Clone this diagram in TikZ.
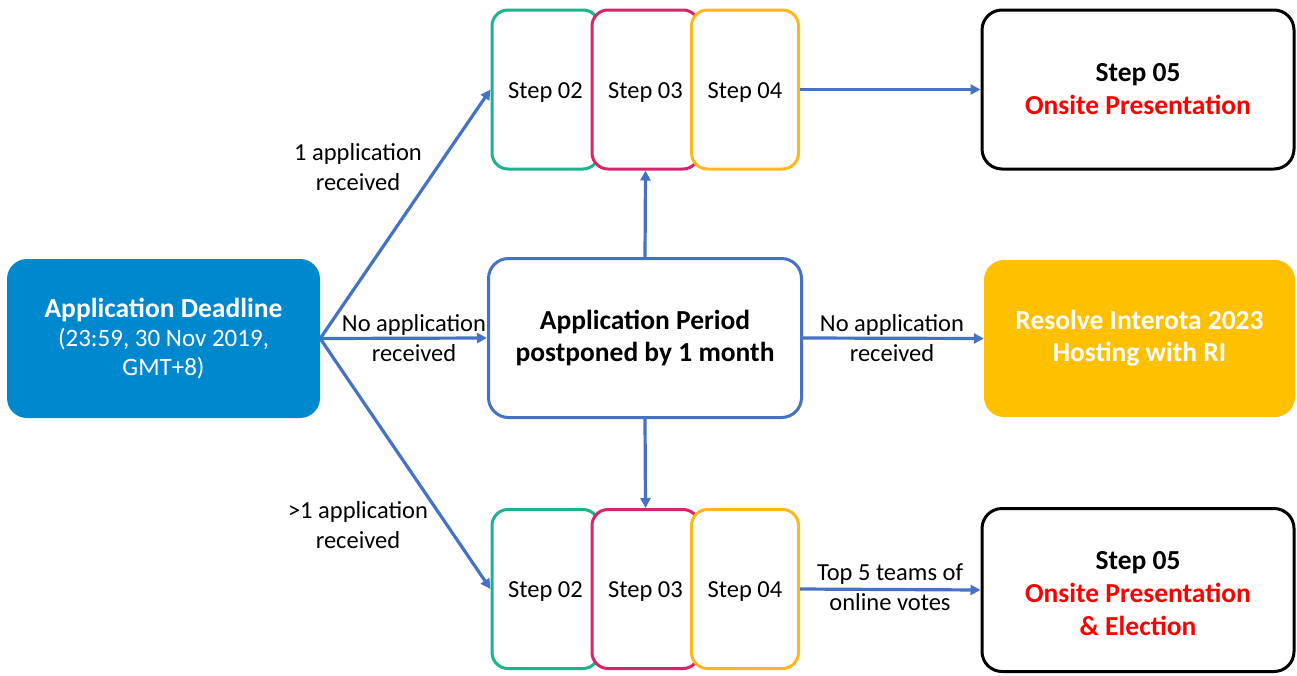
\documentclass[tikz,border=0pt]{standalone}
\usepackage{fontspec}
\setmainfont{Carlito}
\usetikzlibrary{arrows.meta}
\definecolor{dlblue}{HTML}{0088CF}
\definecolor{lineblue}{HTML}{4472C4}
\definecolor{sgreen}{HTML}{1DB38F}
\definecolor{spink}{HTML}{D9246C}
\definecolor{sorange}{HTML}{FFB81C}
\definecolor{rgold}{HTML}{FFC000}
\definecolor{txtred}{HTML}{FF0000}
\newcommand{\lowr}[2]{\raisebox{-#1}[\height][\depth]{#2}}
\begin{document}
\begin{tikzpicture}[x=1pt,y=-1pt,
  every node/.style={font=\fontsize{24}{29}\selectfont, align=center, inner sep=0pt},
  stepbox/.style={draw, fill=white, line width=3pt, rounded corners=16pt, minimum width=107pt, minimum height=159pt, font=\fontsize{24.5}{29}\selectfont},
  bigbox/.style={rounded corners=20pt, minimum width=313pt, minimum height=159pt},
  conn/.style={draw=lineblue, line width=3.2pt, -{Triangle[length=10pt,width=10pt]}},
  lbl/.style={font=\fontsize{24.5}{30}\selectfont}
]
\useasboundingbox (0,0) rectangle (1297,675);
\fill[white] (0,0) rectangle (1297,675);

% main boxes
\node[bigbox, fill=dlblue, text=white, font=\fontsize{25}{29}\selectfont] (dl) at (163.5,338.5)
  {{\bfseries\fontsize{27.5}{29}\selectfont Application Deadline}\\(23:59, 30 Nov 2019,\\GMT+8)};
\node[bigbox, draw=lineblue, line width=3pt, fill=white, font=\bfseries\fontsize{27.5}{32}\selectfont] (ap) at (645,338)
  {Application Period\\postponed by 1 month};
\node[bigbox, fill=rgold, text=white, font=\bfseries\fontsize{27.5}{32}\selectfont, minimum width=311pt, minimum height=157pt] (ri) at (1139.5,338.5)
  {Resolve Interota 2023\\Hosting with RI};
\node[bigbox, draw=black, line width=3pt, fill=white, font=\bfseries\fontsize{27.5}{33}\selectfont, minimum width=312pt] (t5) at (1138,89.5)
  {Step 05\\\textcolor{txtred}{Onsite Presentation}};
\node[bigbox, draw=black, line width=3pt, fill=white, font=\bfseries\fontsize{27.5}{33}\selectfont, minimum width=312pt, minimum height=163pt] (b5) at (1138,590)
  {\lowr{4pt}{Step 05}\\\lowr{4pt}{\textcolor{txtred}{Onsite Presentation}}\\\lowr{4pt}{\textcolor{txtred}{\& Election}}};

% top steps
\node[stepbox, draw=sgreen] (t2) at (545.5,89.5) {\lowr{3pt}{Step 02}};
\node[stepbox, draw=spink] (t3) at (645.5,89.5) {\lowr{3pt}{Step 03}};
\node[stepbox, draw=sorange] (t4) at (745,89.5) {\lowr{3pt}{Step 04}};
% bottom steps
\node[stepbox, draw=sgreen] (u2) at (545.5,589) {\lowr{3pt}{Step 02}};
\node[stepbox, draw=spink] (u3) at (645.5,589) {\lowr{3pt}{Step 03}};
\node[stepbox, draw=sorange] (u4) at (745,589) {\lowr{3pt}{Step 04}};

% connectors
\coordinate (src) at (dl.east);
\draw[conn] (src) -- (t2.west);
\draw[conn] (src) -- (ap.west);
\draw[conn] (src) -- (u2.west);
\draw[conn] (ap.north) -- (t3.south);
\draw[conn] (ap.south) -- (u3.north);
\draw[conn] (ap.east) -- (ri.west);
\draw[conn] (t4.east) -- (t5.west);
\draw[conn] (u4.east) -- (b5.west);

% labels
\node[lbl] (l1) at (358,167) {1 application\\received};
\node[lbl] (l2) at (414,338) {No application\\received};
\node[lbl] (l3) at (358,525) {>1 application\\received};
\node[lbl] (l4) at (892,338) {No application\\received};
\node[lbl] (l5) at (890,587) {Top 5 teams of\\online votes};
\end{tikzpicture}
\end{document}
